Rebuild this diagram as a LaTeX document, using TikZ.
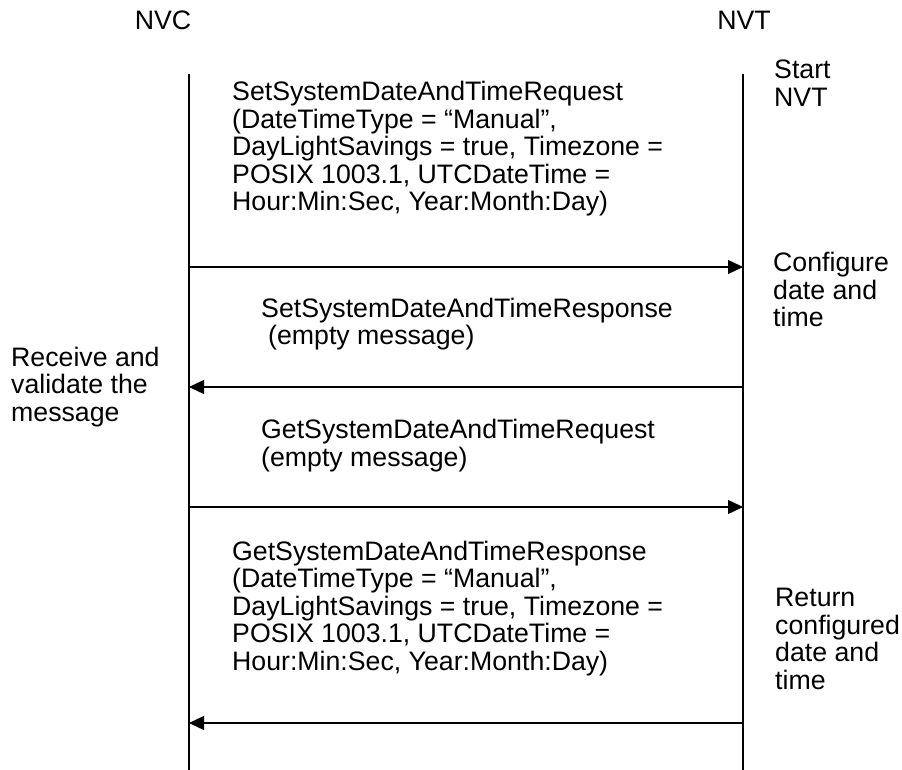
\documentclass[tikz,border=0pt]{standalone}
\usepackage{fontspec}
\setmainfont{Liberation Sans}
\usetikzlibrary{arrows.meta,positioning,calc}
\tikzset{
  lane/.style={line width=1.5pt},
  msg/.style={-{Triangle[length=15pt,width=14pt]},line width=1.3pt},
  txt/.style={anchor=base west,align=left,inner sep=0pt,font=\fontsize{26.7}{27.5}\selectfont},
  hdr/.style={anchor=base,inner sep=0pt,font=\fontsize{26.7}{27.5}\selectfont},
}
\begin{document}
\begin{tikzpicture}[x=1pt,y=-1pt]
 \useasboundingbox (0,0) rectangle (902,770);
 \node[hdr] (nvc) at (163,30) {NVC};
 \node[hdr] (nvt) at (744,30) {NVT};
 \coordinate (c0) at (189,74); \coordinate (cz) at (189,770);
 \coordinate (t0) at (743,74); \coordinate (tz) at (743,770);
 \draw[lane] (c0)--(cz); \draw[lane] (t0)--(tz);
 \coordinate (c1) at (189,267); \coordinate (t1) at (743,267);
 \coordinate (c2) at (189,387); \coordinate (t2) at (743,387);
 \coordinate (c3) at (189,507); \coordinate (t3) at (743,507);
 \coordinate (c4) at (189,723); \coordinate (t4) at (743,723);
 \draw[msg] (c1)--(t1); \draw[msg] (t2)--(c2);
 \draw[msg] (c3)--(t3); \draw[msg] (t4)--(c4);
 \node[txt] (setreq) at (232,211) {SetSystemDateAndTimeRequest\\(DateTimeType = “Manual”,\\DayLightSavings = true, Timezone =\\POSIX 1003.1, UTCDateTime =\\Hour:Min:Sec, Year:Month:Day)};
 \node[txt] (start) at (774,106.5) {Start\\NVT};
 \node[txt] (config) at (773,326.5) {Configure\\date and\\time};
 \node[txt] (setresp) at (261,344.5) {SetSystemDateAndTimeResponse\\\hspace*{7pt}(empty message)};
 \node[txt] (recv) at (11,421) {Receive and\\validate the\\message};
 \node[txt] (getreq) at (261,466) {GetSystemDateAndTimeRequest\\(empty message)};
 \node[txt] (getresp) at (232,670) {GetSystemDateAndTimeResponse\\(DateTimeType = “Manual”,\\DayLightSavings = true, Timezone =\\POSIX 1003.1, UTCDateTime =\\Hour:Min:Sec, Year:Month:Day)};
 \node[txt] (ret) at (775,689) {Return\\configured\\date and\\time};
\end{tikzpicture}
\end{document}
